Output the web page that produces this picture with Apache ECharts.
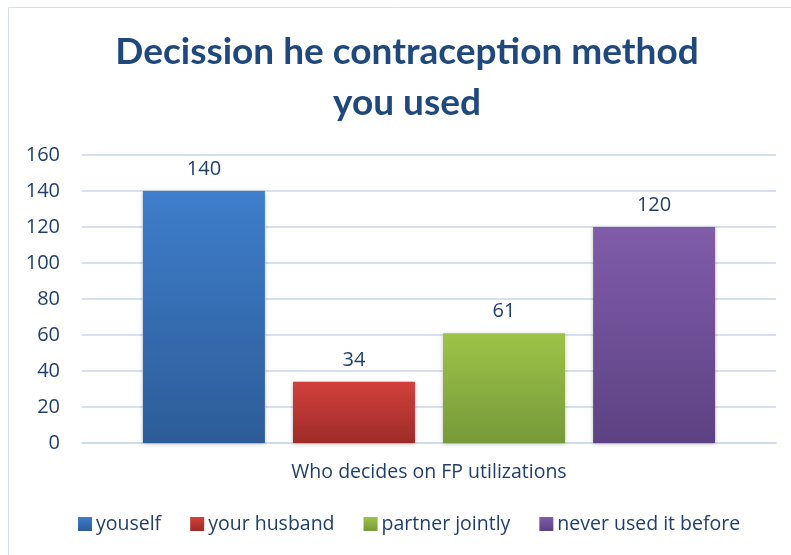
<!DOCTYPE html>
<html><head><meta charset="utf-8">
<script src="https://cdn.jsdelivr.net/npm/echarts@6/dist/echarts.min.js"></script>
<style>html,body{margin:0;padding:0;background:#fff}#c{width:791px;height:555px}</style>
</head><body><div id="c"></div>
<script>
var titleText = 'Decission he contraception method\nyou used';
var categories = ['Who decides on FP utilizations'];
var seriesNames = ['youself', 'your husband', 'partner jointly', 'never used it before'];
var seriesValues = [[140], [34], [61], [120]];
var yTicks = [0, 20, 40, 60, 80, 100, 120, 140, 160];
var gradients = [['#3e7ecb', '#2d5c98'], ['#d3403c', '#9d2b28'], ['#9dc447', '#76993a'], ['#805ca9', '#5d4283']];
var textColor = '#1f3f6b';

var chart = echarts.init(document.getElementById('c'));
var series = seriesNames.map(function (n, i) {
  return {
    name: n, type: 'bar', data: seriesValues[i], barWidth: 122, barGap: '23%',
    itemStyle: {
      color: new echarts.graphic.LinearGradient(0, 0, 0, 1, [{offset: 0, color: gradients[i][0]}, {offset: 1, color: gradients[i][1]}]),
      shadowColor: 'rgba(0,0,0,0.25)', shadowBlur: 4, shadowOffsetY: 1
    },
    label: {show: true, position: 'top', distance: 12, color: textColor, fontSize: 20, fontFamily: 'Open Sans'}
  };
});
chart.setOption({
  animation: false,
  title: {text: titleText, left: 402, textAlign: 'center', top: 22,
    textStyle: {fontFamily: 'Lato', fontWeight: 'bold', fontSize: 37, color: '#1f497d', lineHeight: 51}},
  graphic: [
    {type: 'line', shape: {x1: 8.5, y1: 7.5, x2: 8.5, y2: 555}, style: {stroke: '#d6dee8', lineWidth: 1}, silent: true},
    {type: 'line', shape: {x1: 8.5, y1: 7.5, x2: 791, y2: 7.5}, style: {stroke: '#d6dee8', lineWidth: 1}, silent: true}
  ],
  legend: {bottom: 16, left: 73, itemWidth: 14, itemHeight: 14, itemGap: 29, icon: 'rect',
    textStyle: {fontFamily: 'Open Sans', fontSize: 19.5, color: textColor, padding: [0, 0, 0, -1]}},
  grid: {left: 82, right: 15, top: 155, bottom: 112},
  xAxis: {type: 'category', data: categories,
    axisLine: {lineStyle: {color: '#d0dcec', width: 2}}, axisTick: {show: false},
    axisLabel: {color: textColor, fontSize: 19.5, fontFamily: 'Open Sans', margin: 19}},
  yAxis: {type: 'value', min: 0, max: 160, interval: 20,
    axisLine: {show: false}, axisTick: {show: false},
    splitLine: {lineStyle: {color: '#d6e0ee', width: 2}},
    axisLabel: {color: textColor, fontSize: 20, fontFamily: 'Open Sans', margin: 22,
      formatter: function (v) { return yTicks.indexOf(v) >= 0 ? String(v) : ''; }}},
  series: series
});
</script></body></html>
